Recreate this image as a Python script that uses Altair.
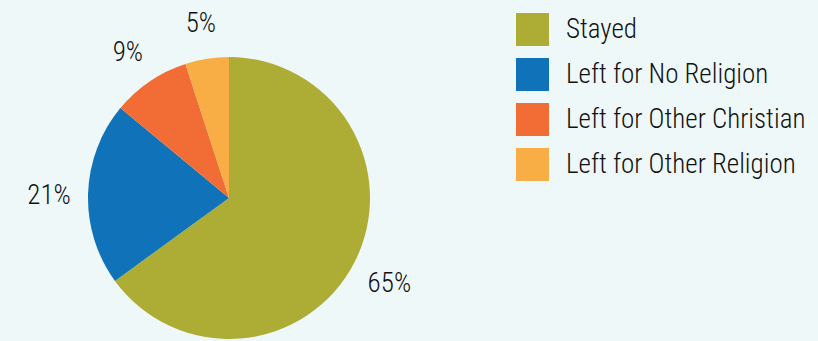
import altair as alt
import pandas as pd

categories = ["Stayed", "Left for No Religion", "Left for Other Christian", "Left for Other Religion"]
values = [65, 21, 9, 5]
labels = ["65%", "21%", "9%", "5%"]
colors = ["#adad35", "#1072b9", "#f26c35", "#f9ae45"]

df = pd.DataFrame({"category": categories, "value": values, "label": labels, "order": list(range(len(categories)))})

FONT = "'Roboto Condensed', 'Noto Sans Condensed', 'DejaVu Sans Condensed', sans-serif"
cx, cy = 229, 198

base = alt.Chart(df).encode(
    theta=alt.Theta("value:Q", stack=True),
    order=alt.Order("order:Q"),
    x=alt.value(cx),
    y=alt.value(cy),
)

pie = base.mark_arc(outerRadius=141).encode(
    color=alt.Color(
        "category:N",
        sort=categories,
        scale=alt.Scale(domain=categories, range=colors),
        legend=alt.Legend(
            title=None,
            orient="none",
            legendX=516,
            legendY=13,
            symbolType="square",
            symbolSize=1089,
            symbolStrokeWidth=0,
            labelFont=FONT,
            labelFontSize=27,
            labelFontWeight=300,
            labelColor="#111111",
            labelOffset=17,
            rowPadding=12,
            labelLimit=400,
        ),
    )
)

text = base.mark_text(radius=180, dy=4, font=FONT, fontSize=27, fontWeight=300, color="#111111").encode(
    text="label:N"
)

chart = (
    (pie + text)
    .properties(width=818, height=341, background="#eef8f8", padding=0, autosize="none")
    .configure_view(stroke=None)
)

chart.save("out.html", embed_options={"renderer": "svg", "actions": False})
